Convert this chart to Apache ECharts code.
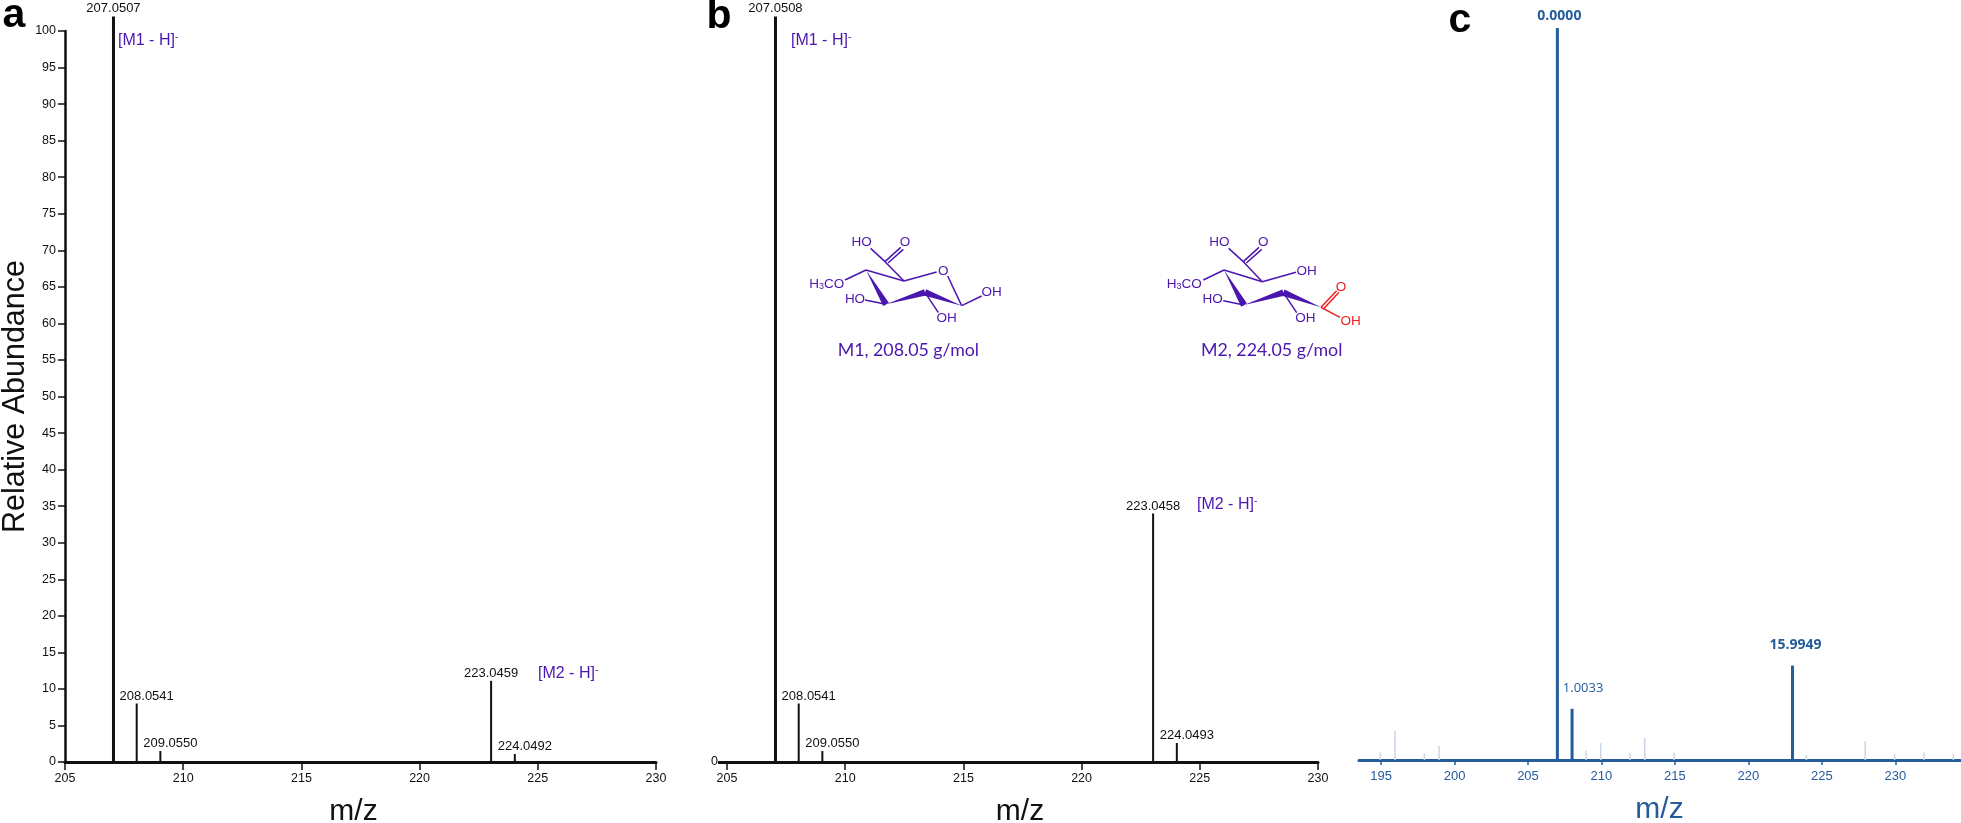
<!DOCTYPE html>
<html>
<head>
<meta charset="utf-8">
<title>Mass spectra</title>
<style>
html, body { margin: 0; background: #fff; }
#chart { width: 1961px; height: 823px; }
</style>
<script src="https://cdn.jsdelivr.net/npm/echarts@6/dist/echarts.min.js"></script>
</head>
<body>
<div id="chart"></div>
<script>
// spectrum a
var mzA = [207.0507, 208.0541, 209.0550, 223.0459, 224.0492];
var abundanceA = [102, 8, 1.5, 11.1, 1.1];
var labelsA = ['207.0507', '208.0541', '209.0550', '223.0459', '224.0492'];

// spectrum b
var mzB = [207.0508, 208.0541, 209.0550, 223.0458, 224.0493];
var abundanceB = [102, 8, 1.5, 34, 2.6];
var labelsB = ['207.0508', '208.0541', '209.0550', '223.0458', '224.0493'];

// spectrum c
var mzC = [207, 208, 223];
var abundanceC = [100, 7, 12.9];
var labelsC = ['0.0000', '1.0033', '15.9949'];
var mzNoiseC = [195, 196, 198, 199, 209, 210, 212, 213, 215, 224, 228, 230, 232, 234];
var abundanceNoiseC = [1, 4, 0.9, 1.9, 1.3, 2.3, 1, 3, 1, 0.7, 2.6, 0.8, 1, 0.8];

// axis ticks
var ticksAB = [205, 210, 215, 220, 225, 230];
var ticksC = [195, 200, 205, 210, 215, 220, 225, 230];

var BLACK = '#111';
var PURPLE = '#4a16ae';
var RED = '#f01f1f';
var BLUE = '#255c9c';
var SANS = '"Liberation Sans", Arial, sans-serif';

// sticks with a value label; shifts move each label off its peak, [dx, dy]
function peakData(mz, values, shifts) {
    return mz.map(function (m, i) {
        return { value: [m, values[i]], label: { offset: shifts[i] } };
    });
}

function stickSeries(idx, mz, values, labels, shifts, color, width, font) {
    return {
        type: 'bar',
        xAxisIndex: idx,
        yAxisIndex: idx,
        barWidth: width,
        barGap: '-100%',
        clip: false,
        itemStyle: { color: color },
        label: {
            show: true,
            position: 'top',
            distance: 1,
            color: font.color,
            fontFamily: font.family,
            fontSize: font.size,
            fontWeight: font.weight,
            formatter: function (p) { return labels[p.dataIndex]; }
        },
        data: peakData(mz, values, shifts)
    };
}

function xAxisFor(idx, min, max, ticks, color, padding, tickLen, margin, labelSize) {
    return {
        type: 'value',
        gridIndex: idx,
        min: min,
        max: max,
        name: 'm/z',
        nameLocation: 'middle',
        nameGap: 35,
        nameTextStyle: { color: color, fontFamily: SANS, fontSize: 30, padding: padding },
        axisLine: { show: true, onZero: false, lineStyle: { color: color, width: 3 } },
        axisTick: { show: true, length: tickLen, lineStyle: { color: color, width: 1.5 }, customValues: ticks },
        axisLabel: { show: true, color: color, fontFamily: SANS, fontSize: labelSize, margin: margin, customValues: ticks },
        splitLine: { show: false }
    };
}

var fontBlack = { color: BLACK, family: SANS, size: 13, weight: 'normal' };
var fontBlue = { color: BLUE, family: '"Open Sans", sans-serif', size: 13, weight: 'normal' };
var fontBlueBold = { color: BLUE, family: '"Open Sans", sans-serif', size: 14, weight: 'bold' };

// small helpers for the text and the structures drawn over the chart
function txt(x, y, text, size, color, extra) {
    var style = {
        x: x, y: y, text: text, fill: color, fontSize: size, fontFamily: SANS,
        align: 'center', verticalAlign: 'middle'
    };
    for (var k in extra) style[k] = extra[k];
    return { type: 'text', silent: true, z: 10, style: style };
}

function ionLabel(x, y, name) {
    return txt(x, y, '{t|' + name + '}{s|-}', 16, PURPLE, {
        align: 'left',
        rich: {
            t: { fontSize: 16, fontFamily: SANS, fill: PURPLE, color: PURPLE },
            s: { fontSize: 10, fontFamily: SANS, fill: PURPLE, color: PURPLE, padding: [0, 0, 8, 0] }
        }
    });
}

function bond(ox, oy, p, color) {
    return {
        type: 'line', silent: true, z: 10,
        shape: { x1: ox + p[0] / 3, y1: oy + p[1] / 3, x2: ox + p[2] / 3, y2: oy + p[3] / 3 },
        style: { stroke: color, lineWidth: 1.5 }
    };
}

// tip at (p0,p1), wide end at (p2,p3)
function wedge(ox, oy, p) {
    var dx = p[2] - p[0], dy = p[3] - p[1], l = Math.sqrt(dx * dx + dy * dy);
    var nx = -dy / l * 10, ny = dx / l * 10;
    return {
        type: 'polygon', silent: true, z: 10,
        shape: { points: [
            [ox + p[0] / 3, oy + p[1] / 3],
            [ox + (p[2] + nx) / 3, oy + (p[3] + ny) / 3],
            [ox + (p[2] - nx) / 3, oy + (p[3] - ny) / 3]
        ] },
        style: { fill: PURPLE }
    };
}

function atom(ox, oy, p, label, color) {
    return txt(ox + p[0] / 3, oy + p[1] / 3, label, 13.5, color);
}

function methoxy(ox, oy, x, y) {
    return txt(ox + x / 3, oy + y / 3, '{a|H}{b|3}{a|CO}', 13.5, PURPLE, {
        rich: {
            a: { fontSize: 13.5, fontFamily: SANS, fill: PURPLE, color: PURPLE },
            b: { fontSize: 9, fontFamily: SANS, fill: PURPLE, color: PURPLE, padding: [6, 0, 0, 0] }
        }
    });
}

function moleculeM1(ox, oy) {
    var thin = [
        [272, 115, 315, 155], [315, 155, 362, 112], [324, 159, 370, 118], [315, 155, 372, 213],
        [258, 180, 372, 213], [372, 213, 470, 186], [503, 198, 545, 287], [195, 210, 258, 180],
        [255, 270, 318, 283], [435, 247, 475, 308], [545, 287, 605, 258]
    ];
    var els = thin.map(function (b) { return bond(ox, oy, b, PURPLE); });
    els.push(wedge(ox, oy, [258, 180, 318, 283]));
    els.push(wedge(ox, oy, [318, 283, 435, 247]));
    els.push(wedge(ox, oy, [545, 287, 435, 247]));
    els.push(atom(ox, oy, [245, 97], 'HO', PURPLE));
    els.push(atom(ox, oy, [375, 97], 'O', PURPLE));
    els.push(atom(ox, oy, [490, 183], 'O', PURPLE));
    els.push(atom(ox, oy, [225, 267], 'HO', PURPLE));
    els.push(atom(ox, oy, [500, 325], 'OH', PURPLE));
    els.push(atom(ox, oy, [635, 248], 'OH', PURPLE));
    els.push(methoxy(ox, oy, 140, 222));
    els.push(txt(ox + 385 / 3, oy + 422 / 3, 'M1, 208.05 g/mol', 17.8, PURPLE, { fontFamily: 'Lato' }));
    return els;
}

function moleculeM2(ox, oy) {
    var thin = [
        [266, 115, 310, 155], [310, 155, 357, 112], [319, 159, 365, 118], [310, 155, 367, 215],
        [252, 180, 367, 215], [367, 215, 468, 187], [190, 210, 252, 180],
        [250, 272, 312, 285], [430, 248, 470, 308]
    ];
    var els = thin.map(function (b) { return bond(ox, oy, b, PURPLE); });
    els.push(wedge(ox, oy, [252, 180, 312, 285]));
    els.push(wedge(ox, oy, [312, 285, 430, 248]));
    els.push(wedge(ox, oy, [543, 292, 430, 248]));
    [[543, 292, 600, 322], [543, 292, 590, 242], [551, 296, 597, 247]].forEach(function (b) {
        els.push(bond(ox, oy, b, RED));
    });
    els.push(atom(ox, oy, [238, 97], 'HO', PURPLE));
    els.push(atom(ox, oy, [370, 97], 'O', PURPLE));
    els.push(atom(ox, oy, [500, 183], 'OH', PURPLE));
    els.push(atom(ox, oy, [218, 267], 'HO', PURPLE));
    els.push(atom(ox, oy, [496, 325], 'OH', PURPLE));
    els.push(atom(ox, oy, [603, 232], 'O', RED));
    els.push(atom(ox, oy, [632, 333], 'OH', RED));
    els.push(methoxy(ox, oy, 133, 222));
    els.push(txt(ox + 395 / 3, oy + 422 / 3, 'M2, 224.05 g/mol', 17.8, PURPLE, { fontFamily: 'Lato' }));
    return els;
}

var myChart = echarts.init(document.getElementById('chart'), null, { renderer: 'canvas' });

var panelLetter = { fontWeight: 'bold', fontSize: 41 };
var smallShifts = [[10, 0], [10, 0], [0, 0], [10, 0]];

var option = {
    backgroundColor: '#fff',
    animation: false,
    grid: [
        { left: 65, top: 31, width: 591, height: 731, outerBoundsMode: 'none' },
        { left: 727, top: 31, width: 591, height: 731, outerBoundsMode: 'none' },
        { left: 1359, top: 28, width: 601, height: 732, outerBoundsMode: 'none' }
    ],
    xAxis: [
        xAxisFor(0, 205, 230, ticksAB, BLACK, [0, 14, 0, 0], 8, 10, 12.5),
        xAxisFor(1, 205, 230, ticksAB, BLACK, [0, 5, 0, 0], 8, 10, 12.5),
        xAxisFor(2, 193.5, 234.4, ticksC, BLUE, [0, 0, 0, 0], 5, 10, 13)
    ],
    yAxis: [
        {
            type: 'value', gridIndex: 0, min: 0, max: 100, interval: 5,
            name: 'Relative Abundance',
            nameLocation: 'middle',
            nameGap: 33,
            nameTextStyle: { color: BLACK, fontFamily: SANS, fontSize: 30.5 },
            axisLine: { show: true, lineStyle: { color: BLACK, width: 2.5 } },
            axisTick: { show: true, length: 7, lineStyle: { color: BLACK, width: 1.5 } },
            axisLabel: { color: BLACK, fontFamily: SANS, fontSize: 12.5, margin: 9 },
            splitLine: { show: false }
        },
        {
            type: 'value', gridIndex: 1, min: 0, max: 100,
            axisLine: { show: false },
            axisTick: { show: true, length: 9, lineStyle: { color: BLACK, width: 3 }, customValues: [0] },
            axisLabel: { color: BLACK, fontFamily: SANS, fontSize: 12.5, margin: 9, customValues: [0] },
            splitLine: { show: false }
        },
        {
            type: 'value', gridIndex: 2, min: 0, max: 100,
            axisLine: { show: false },
            axisTick: { show: false },
            axisLabel: { show: false },
            splitLine: { show: false }
        }
    ],
    series: [
        stickSeries(0, mzA.slice(1), abundanceA.slice(1), labelsA.slice(1), smallShifts, BLACK, 2, fontBlack),
        stickSeries(0, mzA.slice(0, 1), abundanceA.slice(0, 1), labelsA.slice(0, 1), [[0, 0]], BLACK, 3, fontBlack),
        stickSeries(1, mzB.slice(1), abundanceB.slice(1), labelsB.slice(1), smallShifts, BLACK, 2, fontBlack),
        stickSeries(1, mzB.slice(0, 1), abundanceB.slice(0, 1), labelsB.slice(0, 1), [[0, 0]], BLACK, 3, fontBlack),
        {
            type: 'bar', xAxisIndex: 2, yAxisIndex: 2, barWidth: 1.5, barGap: '-100%',
            itemStyle: { color: '#c9d6e6' },
            data: mzNoiseC.map(function (m, i) { return [m, abundanceNoiseC[i]]; })
        },
        // 1.0033 is a light label, the other two are bold, hence the split
        stickSeries(2, [mzC[1]], [abundanceC[1]], [labelsC[1]], [[11, -13]], BLUE, 3, fontBlue),
        stickSeries(2, [mzC[0], mzC[2]], [abundanceC[0], abundanceC[2]], [labelsC[0], labelsC[2]], [[2, -4], [3, -13]], BLUE, 3, fontBlueBold)
    ],
    graphic: {
        elements: [
            txt(14, 16, 'a', panelLetter.fontSize, '#000', panelLetter),
            txt(719, 17, 'b', panelLetter.fontSize, '#000', panelLetter),
            txt(1460, 21, 'c', panelLetter.fontSize, '#000', panelLetter),
            ionLabel(118, 41, '[M1 - H]'),
            ionLabel(538, 674, '[M2 - H]'),
            ionLabel(791, 41, '[M1 - H]'),
            ionLabel(1197, 505, '[M2 - H]')
        ].concat(moleculeM1(780, 210), moleculeM2(1140, 210))
    }
};

myChart.setOption(option);
</script>
</body>
</html>
